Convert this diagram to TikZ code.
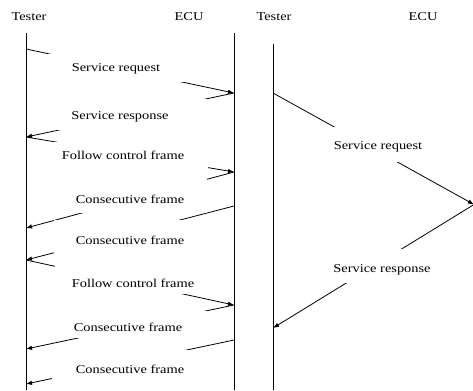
\documentclass[tikz,border=0pt]{standalone}
\usepackage{fontspec}
\setmainfont{Liberation Serif}[FakeStretch=1.2]
\usetikzlibrary{arrows.meta}
\newcommand{\mylift}[2]{\raisebox{#1}[\height][\depth]{#2}}
\begin{document}
\begin{tikzpicture}[x=1bp,y=-1bp,
  life/.style={line width=0.8bp},
  msg/.style={line width=0.8bp,-{Latex[length=6bp,width=4.5bp]}},
  lbl/.style={fill=white,inner sep=0pt,font=\fontsize{12bp}{14bp}\selectfont},
  head/.style={anchor=base,inner sep=0pt,font=\fontsize{12bp}{14bp}\selectfont}]
\useasboundingbox (0,0) rectangle (473,390);
% headers
\node[head] (hT1) at (29,20.5) {Tester};
\node[head] (hE1) at (189,20.5) {ECU};
\node[head] (hT2) at (274,20.5) {Tester};
\node[head] (hE2) at (423,20.5) {ECU};
% lifelines
\coordinate (T1top) at (26,33);  \coordinate (T1bot) at (26,390);
\coordinate (E1top) at (234,33); \coordinate (E1bot) at (234,390);
\coordinate (T2top) at (273,44); \coordinate (T2bot) at (273,390);
\draw[life] (T1top) -- (T1bot);
\draw[life] (E1top) -- (E1bot);
\draw[life] (T2top) -- (T2bot);
% message end points
\coordinate (ta) at (26,49);  \coordinate (ea) at (234,93);
\coordinate (tb) at (26,137); \coordinate (eb) at (234,172);
\coordinate (tc) at (26,228); \coordinate (ec) at (234,206);
\coordinate (td) at (26,260); \coordinate (ed) at (234,305);
\coordinate (te) at (26,349); \coordinate (ee) at (234,340);
\coordinate (tf) at (26,384);
\coordinate (ra) at (273,93); \coordinate (re) at (474,204.5);
\coordinate (rb) at (273,328);
% messages
\draw[msg] (ta) -- (ea);
\draw[msg] (ea) -- (tb);
\draw[msg] (tb) -- (eb);
\draw[msg] (eb) -- (tc);
\draw[msg] (ec) -- (td);
\draw[msg] (td) -- (ed);
\draw[msg] (ed) -- (te);
\draw[msg] (ee) -- (tf);
\draw[msg] (ra) -- (re);
\draw[msg] (re) -- (rb);
% labels
\node[lbl,minimum width=140bp,minimum height=28bp] (m1) at (116,68) {\mylift{-0.5bp}{Service request}};
\node[lbl,minimum width=174bp,minimum height=31bp] (m2) at (120,114.5) {\mylift{-2bp}{Service response}};
\node[lbl,minimum width=170bp,minimum height=26bp] (m3) at (123,154.5) {\mylift{-1bp}{Follow control frame}};
\node[lbl,minimum width=154bp,minimum height=34bp] (m4) at (130,196) {\mylift{-3bp}{Consecutive frame}};
\node[lbl,minimum width=152bp,minimum height=32.7bp] (m5) at (130,236.8) {\mylift{-4bp}{Consecutive frame}};
\node[lbl,minimum width=156bp,minimum height=27.4bp] (m6) at (133,280) {\mylift{-3bp}{Follow control frame}};
\node[lbl,minimum width=158bp,minimum height=27.3bp] (m7) at (128,324.4) {\mylift{-3bp}{Consecutive frame}};
\node[lbl,minimum width=156bp,minimum height=29bp] (m8) at (130,364) {\mylift{-5bp}{Consecutive frame}};
\node[lbl,minimum width=100bp,minimum height=35bp] (r1) at (378,144) {\mylift{-3bp}{Service request}};
\node[lbl,minimum width=108bp,minimum height=34bp] (r2) at (382,265.5) {\mylift{-4bp}{Service response}};
\end{tikzpicture}
\end{document}
